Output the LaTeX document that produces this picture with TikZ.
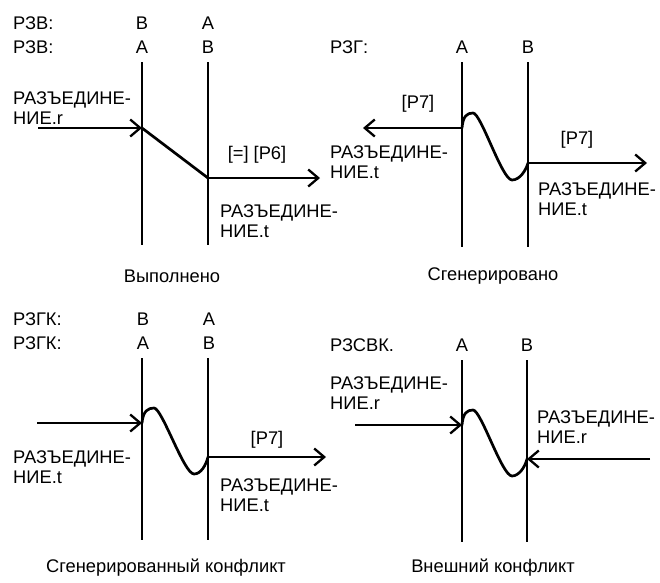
\documentclass[tikz,border=0pt]{standalone}
\usepackage{fontspec}
\setmainfont{Liberation Sans}
\usetikzlibrary{arrows.meta}
\begin{document}
\begin{tikzpicture}[x=1pt,y=-1pt,
  lbl/.style={font=\fontsize{18.3}{20.5}\selectfont, inner sep=0pt},
  two/.style={lbl, align=left, anchor=west},
  life/.style={line width=2.7pt},
  msg/.style={line width=2.3pt, -{Straight Barb[length=10pt,width=17pt,line width=2.3pt]}},
  wave/.style={line width=2.7pt, line join=round, line cap=round}]
\useasboundingbox[fill=white] (0,0) rectangle (660,582);

% ---------- Panel 1: Выполнено ----------
\node[lbl, anchor=west] (p1r1) at (13,23) {РЗВ:};
\node[lbl] (p1b1) at (142,23) {В};
\node[lbl] (p1a1) at (208,23) {А};
\node[lbl, anchor=west] (p1r2) at (13,47) {РЗВ:};
\node[lbl] (p1a2) at (142,47) {А};
\node[lbl] (p1b2) at (208,47) {В};
\coordinate (p1At) at (142,62); \coordinate (p1Ab) at (142,245);
\coordinate (p1Bt) at (208,62); \coordinate (p1Bb) at (208,245);
\draw[life] (p1At) -- (p1Ab);
\draw[life] (p1Bt) -- (p1Bb);
\node[two] (p1tl) at (13,108) {РАЗЪЕДИНЕ-\\НИЕ.r};
\coordinate (p1in) at (38,128); \coordinate (p1x) at (142,128);
\coordinate (p1y) at (208,178); \coordinate (p1out) at (320,178);
\draw[msg] (p1in) -- (p1x);
\draw[wave] (p1x) -- (p1y);
\draw[msg] (p1y) -- (p1out);
\node[lbl] (p1m) at (257,155) {[=] [Р6]};
\node[two] (p1tr) at (220,221) {РАЗЪЕДИНЕ-\\НИЕ.t};
\node[lbl] (p1cap) at (172,276) {Выполнено};

% ---------- Panel 2: Сгенерировано ----------
\node[lbl, anchor=west] (p2r) at (330,47) {РЗГ:};
\node[lbl] (p2a) at (462,47) {А};
\node[lbl] (p2b) at (528,47) {В};
\coordinate (p2At) at (462,62); \coordinate (p2Ab) at (462,247);
\coordinate (p2Bt) at (528,62); \coordinate (p2Bb) at (528,247);
\draw[life] (p2At) -- (p2Ab);
\draw[life] (p2Bt) -- (p2Bb);
\coordinate (p2x) at (462,128); \coordinate (p2l) at (363,128);
\coordinate (p2y) at (528,163); \coordinate (p2out) at (647,163);
\draw[msg] (p2x) -- (p2l);
\draw[wave] (p2x) .. controls (463,116) and (467,113) .. (473,113)
  .. controls (481,113) and (502,180) .. (512,180)
  .. controls (520,180) and (526,170) .. (p2y);
\draw[msg] (p2y) -- (p2out);
\node[lbl] (p2m1) at (418,104) {[Р7]};
\node[lbl] (p2m2) at (577,140) {[Р7]};
\node[two] (p2tl) at (330,162) {РАЗЪЕДИНЕ-\\НИЕ.t};
\node[two] (p2tr) at (538,199) {РАЗЪЕДИНЕ-\\НИЕ.t};
\node[lbl] (p2cap) at (493,276) {Сгенерировано};

% ---------- Panel 3: Сгенерированный конфликт ----------
\node[lbl, anchor=west] (p3r1) at (13,319) {РЗГК:};
\node[lbl] (p3b1) at (143,319) {В};
\node[lbl] (p3a1) at (209,319) {А};
\node[lbl, anchor=west] (p3r2) at (13,343) {РЗГК:};
\node[lbl] (p3a2) at (143,343) {А};
\node[lbl] (p3b2) at (209,343) {В};
\coordinate (p3At) at (142,358); \coordinate (p3Ab) at (142,540);
\coordinate (p3Bt) at (208,358); \coordinate (p3Bb) at (208,540);
\draw[life] (p3At) -- (p3Ab);
\draw[life] (p3Bt) -- (p3Bb);
\coordinate (p3in) at (37,423); \coordinate (p3x) at (142,423);
\coordinate (p3y) at (208,457); \coordinate (p3out) at (326,457);
\draw[msg] (p3in) -- (p3x);
\draw[wave] (p3x) .. controls (143,411) and (148,408) .. (154,408)
  .. controls (162,408) and (184,474) .. (194,474)
  .. controls (201,474) and (206,465) .. (p3y);
\draw[msg] (p3y) -- (p3out);
\node[lbl] (p3m) at (267,440) {[Р7]};
\node[two] (p3tl) at (13,467) {РАЗЪЕДИНЕ-\\НИЕ.t};
\node[two] (p3tr) at (220,495) {РАЗЪЕДИНЕ-\\НИЕ.t};
\node[lbl] (p3cap) at (166,568) {Сгенерированный конфликт};

% ---------- Panel 4: Внешний конфликт ----------
\node[lbl, anchor=west] (p4r) at (330,345) {РЗСВК.};
\node[lbl] (p4a) at (462,345) {А};
\node[lbl] (p4b) at (527,345) {В};
\coordinate (p4At) at (462,360); \coordinate (p4Ab) at (462,542);
\coordinate (p4Bt) at (527,360); \coordinate (p4Bb) at (527,542);
\draw[life] (p4At) -- (p4Ab);
\draw[life] (p4Bt) -- (p4Bb);
\coordinate (p4in) at (355,425); \coordinate (p4x) at (462,425);
\coordinate (p4y) at (527,459); \coordinate (p4rin) at (650,459);
\draw[msg] (p4in) -- (p4x);
\draw[wave] (p4x) .. controls (463,413) and (467,410) .. (473,410)
  .. controls (481,410) and (502,476) .. (512,476)
  .. controls (519,476) and (525,467) .. (p4y);
\draw[msg] (p4rin) -- (p4y);
\node[two] (p4tl) at (330,393) {РАЗЪЕДИНЕ-\\НИЕ.r};
\node[two] (p4tr) at (537,427) {РАЗЪЕДИНЕ-\\НИЕ.r};
\node[lbl] (p4cap) at (493,568) {Внешний конфликт};
\end{tikzpicture}
\end{document}
